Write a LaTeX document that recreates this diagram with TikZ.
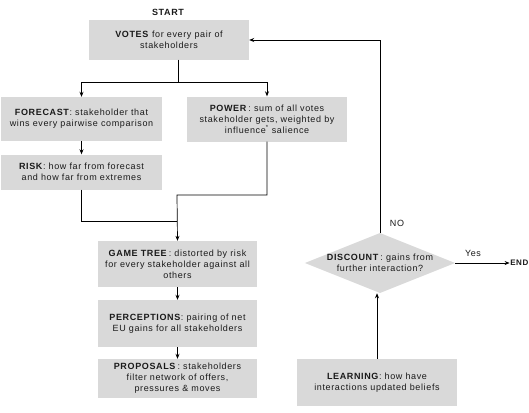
\documentclass[tikz,border=0pt]{standalone}
\usepackage{fontspec}
\setmainfont{Liberation Sans}[LetterSpace=7]
\usetikzlibrary{arrows.meta,shapes.geometric}
\definecolor{boxgray}{HTML}{D9D9D9}
\definecolor{inkgray}{HTML}{1A1A1A}

\begin{document}
\begin{tikzpicture}[x=1pt, y=-1pt, font=\fontsize{9}{11}\selectfont, text=inkgray,
  box/.style={fill=boxgray, align=center, inner sep=0pt, minimum width=160pt},
  decision/.style={diamond, fill=boxgray, align=center, inner sep=0pt, aspect=2.5,
    minimum width=150pt, minimum height=60pt},
  flow/.style={-{Stealth[length=5pt,width=4pt]}, line width=0.7pt},
  link/.style={line width=0.7pt}]
  \useasboundingbox (0,0) rectangle (529,412);
  \node[font=\fontsize{9}{11}\selectfont\bfseries] (start) at (168,12) {START};
  \node[box, minimum height=39pt] (votes) at (169,40)
    {\textbf{VOTES} for every pair of\\stakeholders};
  \node[box, minimum width=161pt, minimum height=44pt] (forecast) at (81.5,119)
    {\textbf{FORECAST}: stakeholder that\\wins every pairwise comparison};
  \node[box, minimum width=161pt, minimum height=35pt] (risk) at (81.5,172)
    {\textbf{RISK}: how far from forecast\\and how far from extremes};
  \node[box, minimum height=45pt] (power) at (267,119)
    {\textbf{POWER}\,: sum of all votes\\stakeholder gets, weighted by\\influence\textsuperscript{*} salience};
  \node[box, minimum width=159pt, minimum height=46pt] (game) at (177.5,264)
    {\textbf{GAME TREE}\,: distorted by risk\\for every stakeholder against all\\others};
  \node[box, minimum width=159pt, minimum height=47pt] (percep) at (177.5,323.5)
    {\textbf{PERCEPTIONS}: pairing of net\\EU gains for all stakeholders};
  \node[box, minimum width=159pt, minimum height=39pt] (propos) at (177.5,378.5)
    {\textbf{PROPOSALS}\,: stakeholders\\filter network of offers,\\pressures \& moves};
  \node[decision] (disc) at (380,263)
    {\textbf{DISCOUNT}\,: gains from\\further interaction?};
  \node[box, minimum height=47pt] (learn) at (377,382.5)
    {\textbf{LEARNING}: how have\\interactions updated beliefs};
  \node[font=\fontsize{8}{10}\selectfont\bfseries, anchor=east, inner sep=0.5pt] (end) at (529,263) {END};
  \node (no) at (397,223) {NO};
  \node (yes) at (473,253) {Yes};
  \coordinate (split) at (178,82);
  \coordinate (bend) at (177,195);
  \coordinate (merge) at (177,221);
  \draw[link] (votes.south -| split) -- (split);
  \draw[flow] (split) -| (forecast.north);
  \draw[flow] (split) -| (power.north);
  \draw[flow] (forecast) -- (risk);
  \draw[link] (risk.south) |- (merge);
  \draw[flow] (power.south) |- (bend) -- (game.north);
  \draw[flow] (game) -- (percep);
  \draw[flow] (percep) -- (propos);
  \draw[flow] (learn.north) -- (learn.north |- disc.south);
  \draw[flow] (disc.north) |- (votes.east);
  \draw[flow] (disc.east) -- (end.west);
\end{tikzpicture}
\end{document}
